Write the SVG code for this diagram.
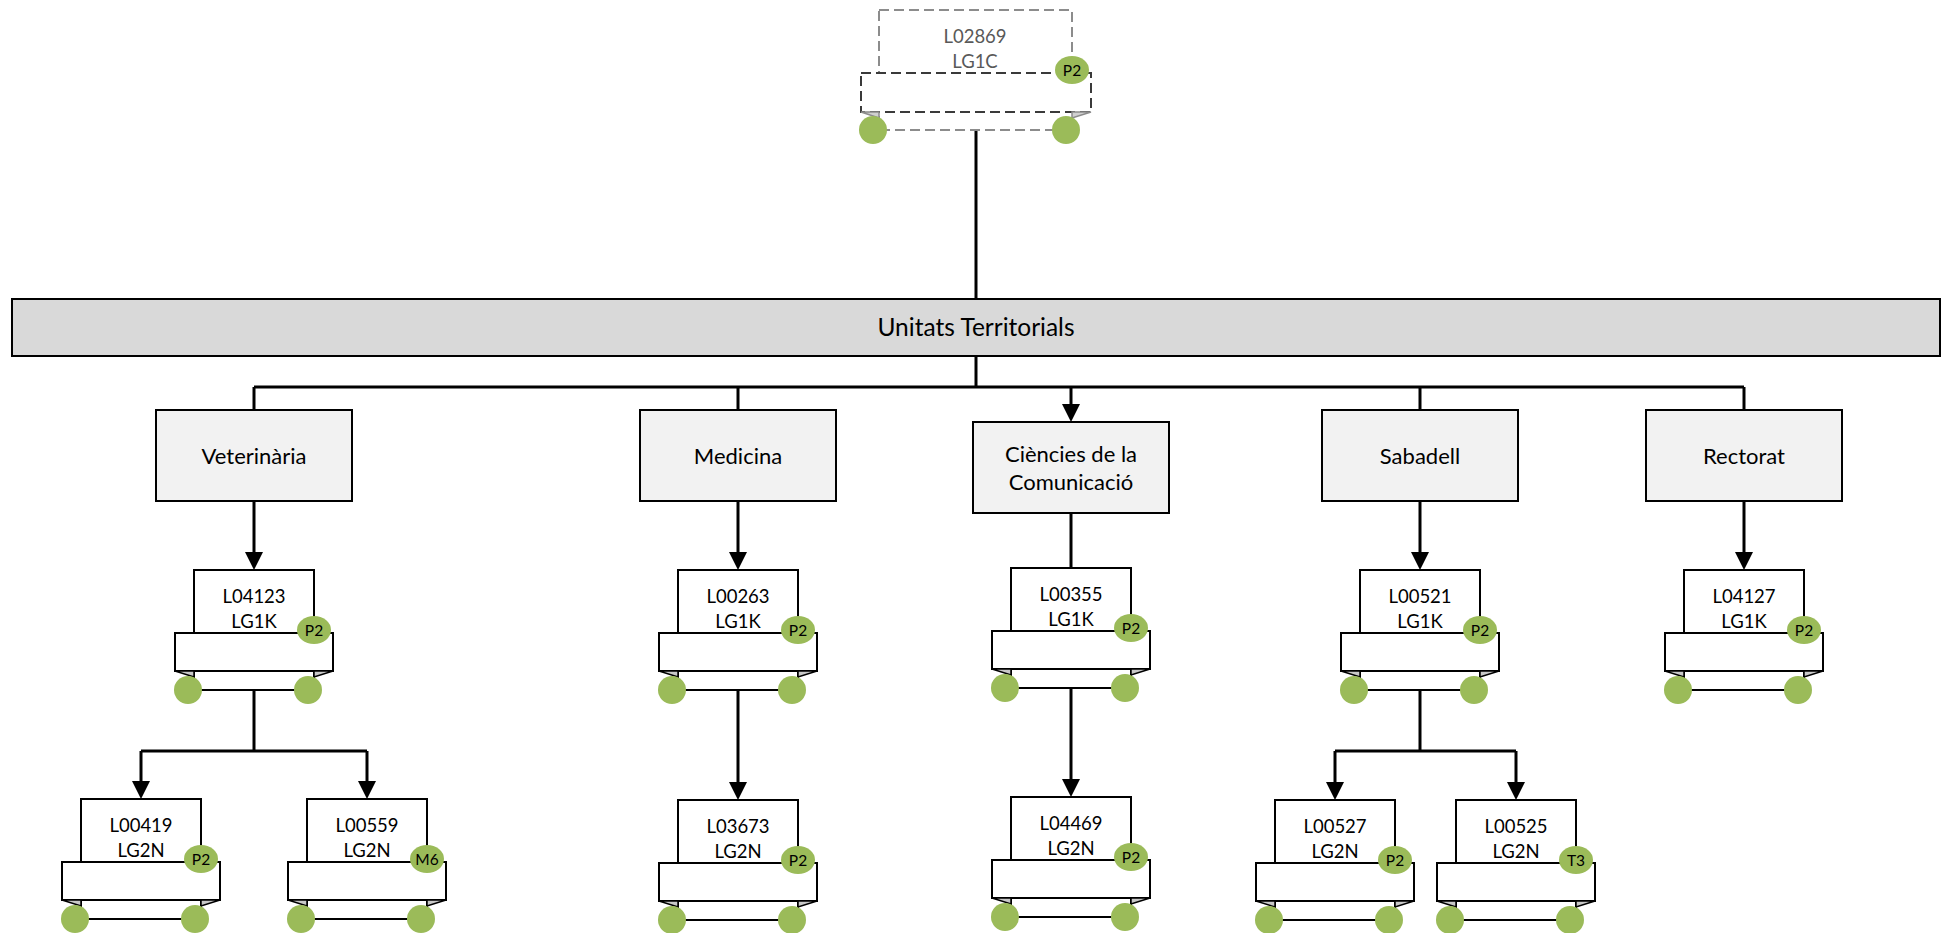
<svg xmlns="http://www.w3.org/2000/svg" xmlns:xlink="http://www.w3.org/1999/xlink" width="1948" height="933" viewBox="0 0 1948 933">
<style>
.bg{fill:#fff}
.bar{fill:#d9d9d9;stroke:#000;stroke-width:2}
.box{fill:#f2f2f2;stroke:#000;stroke-width:2}
.back{fill:#fff;stroke:#000;stroke-width:2}
.band{fill:#fff;stroke:#000;stroke-width:2}
.fold{fill:#c8c8c8;stroke:#000;stroke-width:1.5;stroke-linejoin:miter}
.dot{fill:#9bbb59}
.conn{fill:none;stroke:#000;stroke-width:3}
.dback{fill:#fff;stroke:#8c8c8c;stroke-width:2;stroke-dasharray:10 5}
.dband{fill:#fff;stroke:#3a3a3a;stroke-width:2;stroke-dasharray:10 5}
.dfold{fill:#d0d0d0;stroke:#8c8c8c;stroke-width:1.5}
text{font-family:Lato,"Open Sans","Liberation Sans",sans-serif;fill:#000;text-anchor:middle}
.lbl{font-size:18.5px}
.glbl{font-size:18.5px;fill:#595959}
.blbl{font-size:22px}
.barlbl{font-size:24.5px}
.bdg{font-size:15.5px}
</style>
<defs>
<marker id="arr" viewBox="0 0 18 18" refX="8" refY="9" markerWidth="18" markerHeight="18" markerUnits="userSpaceOnUse" orient="auto">
<path d="M0,0 L18,9 L0,18 Z" fill="#000"/>
</marker>
<g id="ribbon">
<rect x="-60" y="0" width="120" height="120" class="back"/>
<rect x="-79" y="63" width="158" height="38" class="band"/>
<path d="M-79,101 L-60,101 L-60,107 Z" class="fold"/>
<path d="M79,101 L60,101 L60,107 Z" class="fold"/>
<circle cx="-66" cy="120" r="14" class="dot"/>
<circle cx="54" cy="120" r="14" class="dot"/>
<ellipse cx="60" cy="60" rx="17" ry="14" class="dot"/>
</g>
</defs>
<rect x="0" y="0" width="1948" height="933" class="bg"/>

<g id="connectors">
<path class="conn" d="M976,130 V299"/>
<path class="conn" d="M976,356 V387"/>
<path class="conn" d="M254,387 H1744"/>
<path class="conn" d="M254,387 V410"/>
<path class="conn" d="M738,387 V410"/>
<path class="conn" d="M1071,387 V412" marker-end="url(#arr)"/>
<path class="conn" d="M1420,387 V410"/>
<path class="conn" d="M1744,387 V410"/>
<path class="conn" d="M254,501 V560" marker-end="url(#arr)"/>
<path class="conn" d="M738,501 V560" marker-end="url(#arr)"/>
<path class="conn" d="M1071,513 V568"/>
<path class="conn" d="M1420,501 V560" marker-end="url(#arr)"/>
<path class="conn" d="M1744,501 V560" marker-end="url(#arr)"/>
<path class="conn" d="M254,690 V751"/>
<path class="conn" d="M141,751 H367"/>
<path class="conn" d="M141,751 V789" marker-end="url(#arr)"/>
<path class="conn" d="M367,751 V789" marker-end="url(#arr)"/>
<path class="conn" d="M738,690 V790" marker-end="url(#arr)"/>
<path class="conn" d="M1071,688 V787" marker-end="url(#arr)"/>
<path class="conn" d="M1420,690 V751"/>
<path class="conn" d="M1335,751 H1516"/>
<path class="conn" d="M1335,751 V790" marker-end="url(#arr)"/>
<path class="conn" d="M1516,751 V790" marker-end="url(#arr)"/>
</g>

<g id="node-L02869">
<rect x="879" y="10" width="193" height="120" class="dback"/>
<rect x="861" y="73" width="230" height="39" class="dband"/>
<path d="M861,112 L879,112 L879,118 Z" class="dfold"/>
<path d="M1091,112 L1072,112 L1072,118 Z" class="dfold"/>
<circle cx="873" cy="130" r="14" class="dot"/>
<circle cx="1066" cy="130" r="14" class="dot"/>
<ellipse cx="1072" cy="70" rx="17" ry="14" class="dot"/>
<text class="glbl" x="975" y="43">L02869</text>
<text class="glbl" x="975" y="68">LG1C</text>
<text class="bdg" x="1072" y="75.5">P2</text>
</g>

<g id="node-unitats">
<rect x="12" y="299" width="1928" height="57" class="bar"/>
<text class="barlbl" x="976" y="336">Unitats Territorials</text>
</g>

<g id="node-veterinaria">
<rect x="156" y="410" width="196" height="91" class="box"/>
<text class="blbl" x="254" y="463.5">Veterinària</text>
</g>
<g id="node-medicina">
<rect x="640" y="410" width="196" height="91" class="box"/>
<text class="blbl" x="738" y="463.5">Medicina</text>
</g>
<g id="node-ciencies">
<rect x="973" y="422" width="196" height="91" class="box"/>
<text class="blbl" x="1071" y="462">Ciències de la</text>
<text class="blbl" x="1071" y="490">Comunicació</text>
</g>
<g id="node-sabadell">
<rect x="1322" y="410" width="196" height="91" class="box"/>
<text class="blbl" x="1420" y="463.5">Sabadell</text>
</g>
<g id="node-rectorat">
<rect x="1646" y="410" width="196" height="91" class="box"/>
<text class="blbl" x="1744" y="463.5">Rectorat</text>
</g>

<g id="node-L04123" transform="translate(254,570)">
<use xlink:href="#ribbon"/>
<text class="lbl" x="0" y="33">L04123</text><text class="lbl" x="0" y="58">LG1K</text>
<text class="bdg" x="60" y="65.5">P2</text>
</g>
<g id="node-L00263" transform="translate(738,570)">
<use xlink:href="#ribbon"/>
<text class="lbl" x="0" y="33">L00263</text><text class="lbl" x="0" y="58">LG1K</text>
<text class="bdg" x="60" y="65.5">P2</text>
</g>
<g id="node-L00355" transform="translate(1071,568)">
<use xlink:href="#ribbon"/>
<text class="lbl" x="0" y="33">L00355</text><text class="lbl" x="0" y="58">LG1K</text>
<text class="bdg" x="60" y="65.5">P2</text>
</g>
<g id="node-L00521" transform="translate(1420,570)">
<use xlink:href="#ribbon"/>
<text class="lbl" x="0" y="33">L00521</text><text class="lbl" x="0" y="58">LG1K</text>
<text class="bdg" x="60" y="65.5">P2</text>
</g>
<g id="node-L04127" transform="translate(1744,570)">
<use xlink:href="#ribbon"/>
<text class="lbl" x="0" y="33">L04127</text><text class="lbl" x="0" y="58">LG1K</text>
<text class="bdg" x="60" y="65.5">P2</text>
</g>

<g id="node-L00419" transform="translate(141,799)">
<use xlink:href="#ribbon"/>
<text class="lbl" x="0" y="33">L00419</text><text class="lbl" x="0" y="58">LG2N</text>
<text class="bdg" x="60" y="65.5">P2</text>
</g>
<g id="node-L00559" transform="translate(367,799)">
<use xlink:href="#ribbon"/>
<text class="lbl" x="0" y="33">L00559</text><text class="lbl" x="0" y="58">LG2N</text>
<text class="bdg" x="60" y="65.5">M6</text>
</g>
<g id="node-L03673" transform="translate(738,800)">
<use xlink:href="#ribbon"/>
<text class="lbl" x="0" y="33">L03673</text><text class="lbl" x="0" y="58">LG2N</text>
<text class="bdg" x="60" y="65.5">P2</text>
</g>
<g id="node-L04469" transform="translate(1071,797)">
<use xlink:href="#ribbon"/>
<text class="lbl" x="0" y="33">L04469</text><text class="lbl" x="0" y="58">LG2N</text>
<text class="bdg" x="60" y="65.5">P2</text>
</g>
<g id="node-L00527" transform="translate(1335,800)">
<use xlink:href="#ribbon"/>
<text class="lbl" x="0" y="33">L00527</text><text class="lbl" x="0" y="58">LG2N</text>
<text class="bdg" x="60" y="65.5">P2</text>
</g>
<g id="node-L00525" transform="translate(1516,800)">
<use xlink:href="#ribbon"/>
<text class="lbl" x="0" y="33">L00525</text><text class="lbl" x="0" y="58">LG2N</text>
<text class="bdg" x="60" y="65.5">T3</text>
</g>
</svg>
